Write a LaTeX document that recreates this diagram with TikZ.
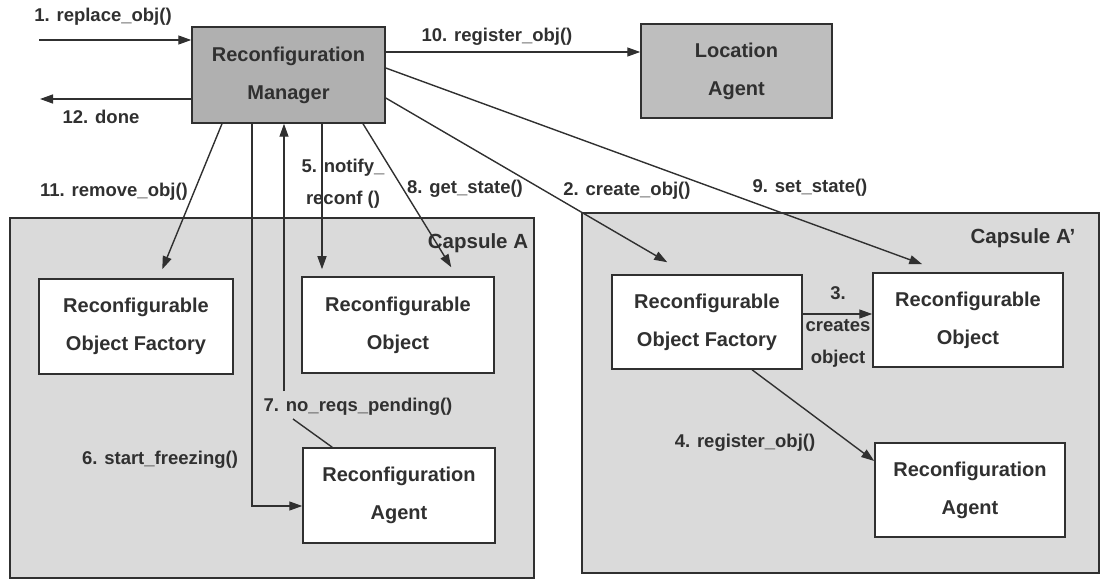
\documentclass[tikz,border=0pt]{standalone}
\usepackage{fontspec}
\setmainfont{Liberation Sans}
\usetikzlibrary{arrows.meta,calc}
\definecolor{ink}{RGB}{48,48,48}
\definecolor{mgrfill}{RGB}{176,176,176}
\definecolor{locfill}{RGB}{190,190,190}
\definecolor{capfill}{RGB}{218,218,218}
\begin{document}
\begin{tikzpicture}[x=1pt,y=-1pt,
  every node/.style={text=ink},
  boxtext/.style={font=\bfseries\fontsize{20}{38}\selectfont},
  box/.style={boxtext, draw=ink, line width=1.5pt, fill=white, align=center, inner sep=0pt},
  capsule/.style={draw=ink, line width=1.5pt, fill=capfill, inner sep=0pt},
  lbl/.style={align=center, inner sep=0pt, font=\bfseries\fontsize{18.5}{32}\selectfont},
  caplbl/.style={lbl, font=\bfseries\fontsize{20.5}{32}\selectfont},
  conn/.style={draw=ink, line width=1.4pt},
  arr/.style={conn, -{Triangle[length=13pt,width=9pt]}},
]
\useasboundingbox (0,0) rectangle (1101,580);

% capsules
\node[capsule, minimum width=524pt, minimum height=360pt] (capA) at (272,398) {};
\node[capsule, minimum width=517pt, minimum height=360pt] (capB) at (840.5,393) {};
\node[caplbl] (capAl) at (478,243) {Capsule A};
\node[caplbl] (capBl) at (1023,238) {Capsule A'};

% top boxes
\node[box, fill=mgrfill, minimum width=193pt, minimum height=96pt] (mgr) at (288.5,75) {Reconfiguration\\Manager};
\node[box, fill=locfill, minimum width=191pt, minimum height=94pt] (loc) at (736.5,71) {Location\\Agent};

% capsule A boxes
\node[box, minimum width=194pt, minimum height=95pt] (rof) at (136,326.5) {Reconfigurable\\Object Factory};
\node[box, minimum width=192pt, minimum height=96pt] (ro) at (398,325) {Reconfigurable\\Object};
\node[box, minimum width=192pt, minimum height=95pt] (ra) at (399,495.5) {Reconfiguration\\Agent};

% capsule A' boxes
\node[box, minimum width=190pt, minimum height=94pt] (rofp) at (707,322) {Reconfigurable\\Object Factory};
\node[box, minimum width=190pt, minimum height=94pt] (rop) at (968,320) {Reconfigurable\\Object};
\node[box, minimum width=190pt, minimum height=94pt] (rap) at (970,490) {Reconfiguration\\Agent};

% helper coordinates
\coordinate (in1) at (39,40);
\coordinate (out12) at (40,99);
\coordinate (y10) at (0,52);
\coordinate (y9) at (0,68);
\coordinate (y2) at (0,98);
\coordinate (x11) at (222,0);
\coordinate (x6) at (252,0);
\coordinate (x7) at (284,0);
\coordinate (x5) at (322,0);
\coordinate (x8) at (363,0);
\coordinate (bend6) at (252,506);
\coordinate (c7a) at (293,419);
\coordinate (c7b) at (284,391);
\coordinate (y3) at (0,314);
\coordinate (x4) at (752,0);
\coordinate (y4) at (0,461);

% connectors
\draw[arr] (in1) -- (mgr.west |- in1);
\draw[arr] (mgr.west |- out12) -- (out12);
\draw[arr] (mgr.east |- y10) -- (loc.west |- y10);
\draw[arr] (mgr.east |- y9) -- ($(rop.north west)+(50,-8)$);
\draw[arr] (mgr.east |- y2) -- ($(rofp.north west)+(56,-12)$);
\draw[arr] (mgr.south -| x11) -- ($(rof.north west)+(124,-9)$);
\draw[arr] (mgr.south -| x6) -- (bend6) -- (ra.west |- bend6);
\draw[conn] ($(ra.north west)+(30,0)$) -- (c7a);
\draw[arr] (c7b) -- (mgr.south -| x7);
\draw[arr] (mgr.south -| x5) -- ($(ro.north -| x5)+(0,-7)$);
\draw[arr] (mgr.south -| x8) -- ($(ro.north west)+(150,-9)$);
\draw[arr] (rofp.east |- y3) -- (rop.west |- y3);
\draw[arr] (rofp.south -| x4) -- (rap.west |- y4);

% labels
\node[lbl] (l1) at (103,17) {1. replace\_obj()};
\node[lbl] (l12) at (101,117) {12. done};
\node[lbl] (l10) at (497,37) {10. register\_obj()};
\node[lbl] (l11) at (114,192) {11. remove\_obj()};
\node[lbl] (l5) at (343,184) {5. notify\_\\reconf ()};
\node[lbl] (l8) at (465,189) {8. get\_state()};
\node[lbl] (l2) at (627,191) {2. create\_obj()};
\node[lbl] (l9) at (810,188) {9. set\_state()};
\node[lbl] (l7) at (358,407) {7. no\_reqs\_pending()};
\node[lbl] (l6) at (160,460) {6. start\_freezing()};
\node[lbl] (l3) at (838,327) {3.\\creates\\object};
\node[lbl] (l4) at (745,443) {4. register\_obj()};
\end{tikzpicture}
\end{document}
